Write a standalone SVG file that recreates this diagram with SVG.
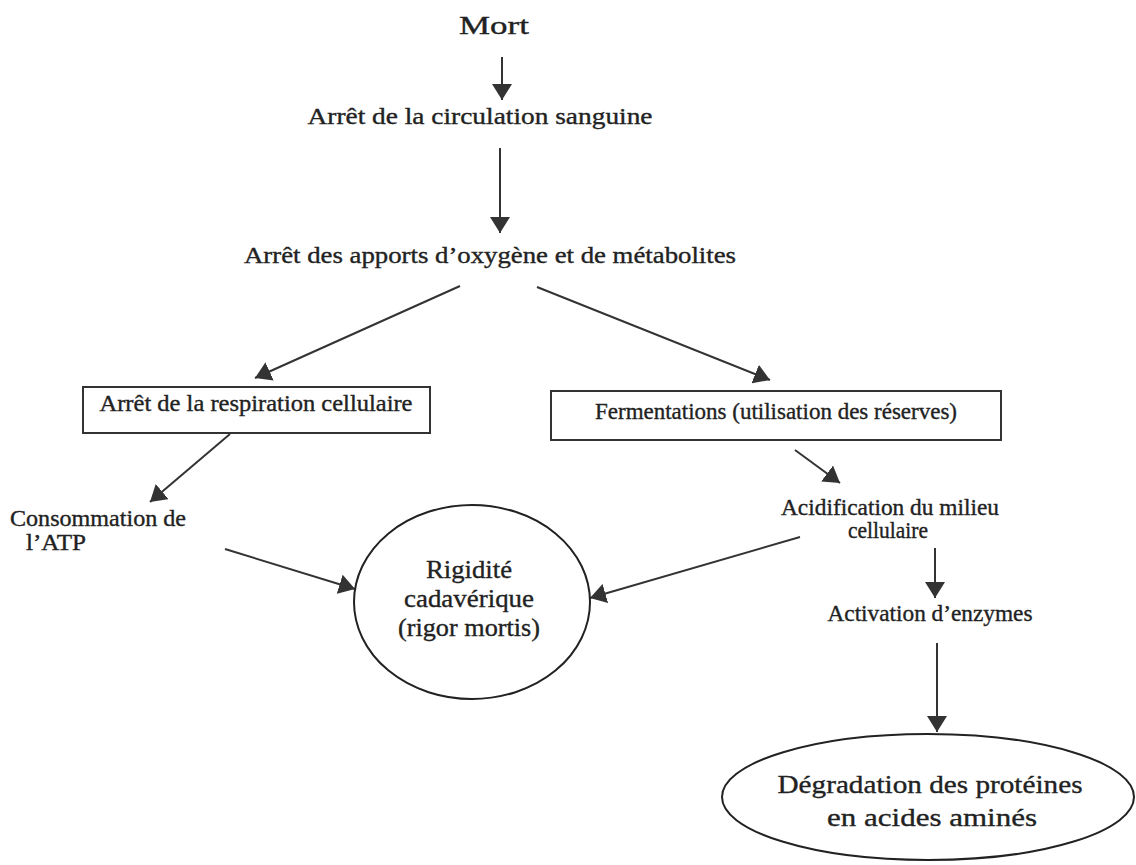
<svg xmlns="http://www.w3.org/2000/svg" width="1136" height="865" viewBox="0 0 1136 865">
<defs>
<style>
text{font-family:"Liberation Serif","Times New Roman",serif;fill:#222;stroke:#222;stroke-width:0.35;font-size:23px}
.big{font-size:26px}
.box{fill:none;stroke:#333;stroke-width:2}
.ell{fill:none;stroke:#222;stroke-width:2}
.c line{stroke:#333;stroke-width:2;marker-end:url(#ah)}
</style>
<marker id="ah" viewBox="0 0 16 20" refX="16" refY="10" markerWidth="16" markerHeight="20" markerUnits="userSpaceOnUse" orient="auto">
<path d="M0,0 L16,10 L0,20 z" fill="#333"/>
</marker>
</defs>
<rect width="1136" height="865" fill="#fff"/>
<g class="c" id="connectors">
<line x1="502" y1="57" x2="502" y2="100"/>
<line x1="500" y1="148" x2="500" y2="233"/>
<line x1="460" y1="286" x2="255" y2="378"/>
<line x1="537" y1="287" x2="770" y2="380"/>
<line x1="230" y1="434" x2="150" y2="502"/>
<line x1="225" y1="549" x2="355" y2="589"/>
<line x1="800" y1="537" x2="590" y2="598"/>
<line x1="795" y1="450" x2="840" y2="483"/>
<line x1="935" y1="548" x2="935" y2="598"/>
<line x1="937" y1="643" x2="937" y2="732"/>
</g>
<g id="mort"><text class="big" x="494" y="34" text-anchor="middle" textLength="70" lengthAdjust="spacingAndGlyphs">Mort</text></g>
<g id="circulation"><text x="480" y="124" text-anchor="middle" textLength="345" lengthAdjust="spacingAndGlyphs">Arrêt de la circulation sanguine</text></g>
<g id="apports"><text x="490" y="263" text-anchor="middle" textLength="492" lengthAdjust="spacingAndGlyphs">Arrêt des apports d’oxygène et de métabolites</text></g>
<g id="respiration">
<rect class="box" x="83" y="387" width="347" height="46"/>
<text x="256" y="411" text-anchor="middle" textLength="313" lengthAdjust="spacingAndGlyphs">Arrêt de la respiration cellulaire</text>
</g>
<g id="fermentations">
<rect class="box" x="551" y="391" width="450" height="49"/>
<text x="776" y="419" text-anchor="middle" textLength="362" lengthAdjust="spacingAndGlyphs">Fermentations (utilisation des réserves)</text>
</g>
<g id="atp">
<text x="10" y="526" textLength="176" lengthAdjust="spacingAndGlyphs">Consommation de</text>
<text x="26" y="550" textLength="60" lengthAdjust="spacingAndGlyphs">l’ATP</text>
</g>
<g id="rigidite">
<ellipse class="ell" cx="472" cy="602" rx="118" ry="97"/>
<text class="big" x="469" y="578" text-anchor="middle" textLength="86" lengthAdjust="spacingAndGlyphs">Rigidité</text>
<text class="big" x="469" y="607" text-anchor="middle" textLength="130" lengthAdjust="spacingAndGlyphs">cadavérique</text>
<text class="big" x="469" y="636" text-anchor="middle" textLength="142" lengthAdjust="spacingAndGlyphs">(rigor mortis)</text>
</g>
<g id="acidification">
<text x="890" y="515" text-anchor="middle" textLength="218" lengthAdjust="spacingAndGlyphs">Acidification du milieu</text>
<text x="888" y="538" text-anchor="middle" textLength="80" lengthAdjust="spacingAndGlyphs">cellulaire</text>
</g>
<g id="enzymes"><text x="930" y="621" text-anchor="middle" textLength="205" lengthAdjust="spacingAndGlyphs">Activation d’enzymes</text></g>
<g id="degradation">
<ellipse class="ell" cx="928" cy="797" rx="206" ry="63"/>
<text class="big" x="930" y="793" text-anchor="middle" textLength="305" lengthAdjust="spacingAndGlyphs">Dégradation des protéines</text>
<text class="big" x="932" y="826" text-anchor="middle" textLength="210" lengthAdjust="spacingAndGlyphs">en acides aminés</text>
</g>
</svg>
